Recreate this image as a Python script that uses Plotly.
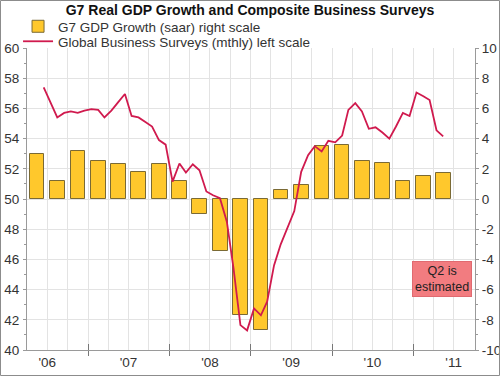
import pandas as pd
import plotly.graph_objects as go

# ---- data ----
quarters = ["2006Q2", "2006Q3", "2006Q4",
            "2007Q1", "2007Q2", "2007Q3", "2007Q4",
            "2008Q1", "2008Q2", "2008Q3", "2008Q4",
            "2009Q1", "2009Q2", "2009Q3", "2009Q4",
            "2010Q1", "2010Q2", "2010Q3", "2010Q4",
            "2011Q1", "2011Q2"]
gdp_growth = [3.0, 1.2, 3.2,
              2.5, 2.3, 1.8, 2.3,
              1.2, -1.0, -3.45, -7.65,
              -8.7, 0.6, 0.9, 3.5,
              3.6, 2.5, 2.4, 1.2,
              1.5, 1.7]

months_start = "2006-06"
survey = [57.4, 56.4, 55.4, 55.7, 55.8, 55.7, 55.85,                    # 2006 Jun-Dec
          55.95, 55.9, 55.4, 55.85, 56.4, 56.95, 55.5, 55.4, 55.1, 54.8, 53.9, 53.6,   # 2007
          51.15, 52.35, 51.75, 52.3, 51.9, 50.5, 50.25, 50.05, 48.5, 45.4, 41.65, 41.3,  # 2008
          42.75, 42.3, 43.2, 45.6, 47.0, 48.1, 49.2, 51.8, 52.9, 53.5, 53.15, 53.85,    # 2009
          53.75, 54.2, 55.9, 56.35, 55.8, 54.65, 54.75, 54.4, 54.0, 54.8, 55.7, 55.5,   # 2010
          57.05, 56.8, 56.55, 54.55, 54.15]                                            # 2011 Jan-May

year_labels = ["'06", "'07", "'08", "'09", "'10", "'11"]
years = [2006, 2007, 2008, 2009, 2010, 2011]
right_ticks = [-10, -8, -6, -4, -2, 0, 2, 4, 6, 8, 10]
left_ticks = [40, 42, 44, 46, 48, 50, 52, 54, 56, 58, 60]

# ---- derived positions ----
q_periods = pd.PeriodIndex(quarters, freq="Q")
bar_x = [p.start_time + (p.end_time - p.start_time) / 2 for p in q_periods]
m_periods = pd.period_range(months_start, periods=len(survey), freq="M")
line_x = [p.start_time + pd.Timedelta(days=14) for p in m_periods]
label_pos = [pd.Timestamp(f"{y}-07-01") for y in years]
year_bounds = [pd.Timestamp(f"{y}-01-01") for y in years[1:]]

W, H = 500, 376
ML, MR, MT, MB = 27, 25, 48, 26
PW, PH = W - ML - MR, H - MT - MB

FONT = "Liberation Sans, Arial, sans-serif"
TXT = "#333333"
GRID = "#E3E3E3"
AXC = "#9A9A9A"
TICKSIZE = 13.5

fig = go.Figure()

fig.add_trace(go.Bar(
    x=bar_x, y=gdp_growth, name="G7 GDP Growth (saar) right scale",
    width=66 * 86400000,
    marker=dict(color="#FFC82C", line=dict(color="#7A6A35", width=1)),
    yaxis="y", legend="legend",
))
fig.add_trace(go.Scatter(
    x=line_x, y=survey, name="Global Business Surveys (mthly) left scale",
    mode="lines", line=dict(color="#D01A4E", width=1.8),
    yaxis="y2", legend="legend2",
))

x_range = [pd.Timestamp("2006-04-01"), pd.Timestamp("2011-10-05")]

legend_common = dict(x=-0.02, xanchor="left", yanchor="top",
                     bgcolor="rgba(0,0,0,0)", font=dict(size=13.5, color=TXT),
                     itemwidth=30)

fig.update_layout(
    width=W, height=H,
    margin=dict(l=ML, r=MR, t=MT, b=MB, pad=0, autoexpand=False),
    paper_bgcolor="white", plot_bgcolor="white",
    font=dict(family=FONT, size=13, color=TXT),
    title=dict(text="<b>G7 Real GDP Growth and Composite Business Surveys</b>",
               x=0.5, xanchor="center", y=1 - 10 / H, yanchor="middle",
               font=dict(size=14, color="#111111")),
    showlegend=True,
    legend=dict(y=1 + 37 / PH, **legend_common),
    legend2=dict(y=1 + 22 / PH, **legend_common),
    bargap=0,
    xaxis=dict(
        type="date", range=x_range,
        tickvals=label_pos, ticktext=year_labels,
        ticks="", showgrid=False,
        showline=True, linecolor=AXC, linewidth=1,
        tickfont=dict(size=TICKSIZE, color=TXT),
        minor=dict(dtick="M3", tick0="2006-01-01", showgrid=True,
                   gridcolor=GRID, gridwidth=1, ticks=""),
        zeroline=False,
    ),
    xaxis2=dict(
        type="date", range=x_range, overlaying="x", anchor="y",
        tickvals=year_bounds, ticks="outside", ticklen=5, tickcolor="#777777",
        showticklabels=False, showgrid=False, showline=False, zeroline=False,
        side="bottom",
    ),
    xaxis3=dict(
        type="date", range=x_range, overlaying="x", anchor="y",
        tickvals=year_bounds, ticks="inside", ticklen=6, tickcolor="#777777",
        showticklabels=False, showgrid=False, showline=False, zeroline=False,
        side="bottom",
    ),
    yaxis=dict(
        range=[-10, 10], side="right",
        tickvals=right_ticks, ticktext=[str(v) for v in right_ticks],
        showgrid=True, gridcolor=GRID, gridwidth=1,
        showline=True, linecolor=AXC, linewidth=1,
        ticks="outside", ticklen=3, tickcolor=AXC,
        minor=dict(dtick=1, ticks="outside", ticklen=2, tickcolor=AXC, showgrid=False),
        zeroline=False, tickfont=dict(size=TICKSIZE, color=TXT),
        ticklabelstandoff=0,
    ),
    yaxis2=dict(
        range=[40, 60], side="left", overlaying="y",
        tickvals=left_ticks, ticktext=[str(v) for v in left_ticks],
        showgrid=False,
        showline=True, linecolor=AXC, linewidth=1,
        ticks="outside", ticklen=3, tickcolor=AXC,
        minor=dict(dtick=1, ticks="outside", ticklen=2, tickcolor=AXC),
        zeroline=False, tickfont=dict(size=TICKSIZE, color=TXT),
        ticklabelstandoff=1,
    ),
)

# invisible helper traces so the overlay x-axes are drawn
fig.add_trace(go.Scatter(x=x_range, y=[0, 0], xaxis="x2", yaxis="y", mode="markers",
                         marker=dict(opacity=0), showlegend=False, hoverinfo="skip"))
fig.add_trace(go.Scatter(x=x_range, y=[0, 0], xaxis="x3", yaxis="y", mode="markers",
                         marker=dict(opacity=0), showlegend=False, hoverinfo="skip"))

fig.add_annotation(
    text="Q2 is<br>estimated", xref="paper", yref="paper",
    x=(442 - ML) / PW, y=(H - MB - 279) / PH, xanchor="center", yanchor="middle",
    showarrow=False, bgcolor="#F27C80", bordercolor="#E06A70", borderwidth=1,
    borderpad=2, font=dict(size=12.5, color="#222222"), align="center",
)

# outer frame
fig.add_shape(type="rect", xref="paper", yref="paper",
              x0=(-ML + 0.5) / PW, x1=(W - ML - 0.5) / PW,
              y0=(-MB + 0.5) / PH, y1=1 + (MT - 0.5) / PH,
              line=dict(color="#8C8C8C", width=1), fillcolor="rgba(0,0,0,0)", layer="above")

fig.write_html("out.html",
               config={"displayModeBar": False},
               post_script="document.body.style.margin='0';document.body.style.padding='0';")
